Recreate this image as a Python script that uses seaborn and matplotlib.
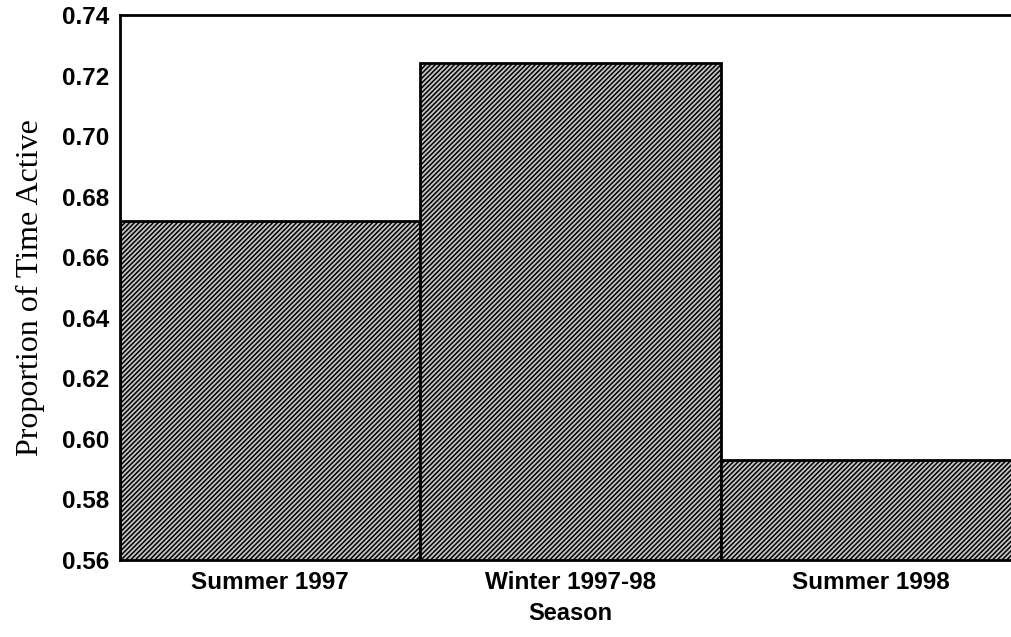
import matplotlib
matplotlib.use("Agg")
import matplotlib.pyplot as plt
import seaborn as sns
import pandas as pd

seasons = ["Summer 1997", "Winter 1997-98", "Summer 1998"]
proportion_active = [0.672, 0.724, 0.593]
y_ticks = [0.56, 0.58, 0.60, 0.62, 0.64, 0.66, 0.68, 0.70, 0.72, 0.74]

sns.set_theme(style="white")
plt.rcParams["hatch.linewidth"] = 1.1
plt.rcParams["hatch.color"] = "black"
plt.rcParams["text.color"] = "black"
plt.rcParams["axes.labelcolor"] = "black"
plt.rcParams["xtick.color"] = "black"
plt.rcParams["ytick.color"] = "black"

df = pd.DataFrame({"Season": seasons, "Proportion": proportion_active})

fig = plt.figure(figsize=(10.11, 6.37), dpi=100)
ax = fig.add_axes([120 / 1011, 1 - 560 / 637, 1 - 120 / 1011 + 0.01, (560 - 15) / 637])

sns.barplot(data=df, x="Season", y="Proportion", ax=ax, width=1.0,
            color="white", edgecolor="black", linewidth=2)

for p in ax.patches:
    p.set_hatch("///////")
    p.set_facecolor("#c4c4c4")
    p.set_edgecolor("black")

ax.set_ylim(0.56, 0.74)
ax.set_xlim(-0.5, 2.5)
ax.set_yticks(y_ticks)
ax.set_yticklabels([f"{v:.2f}" for v in y_ticks])

for lab in ax.get_yticklabels() + ax.get_xticklabels():
    lab.set_fontfamily("Liberation Sans")
    lab.set_fontweight("bold")
    lab.set_fontsize(17.5)
    lab.set_color("black")

ax.tick_params(axis="y", length=3, direction="in", pad=8, width=1.2)
ax.tick_params(axis="x", length=0, pad=8)

ax.set_ylabel("Proportion of Time Active", family="Liberation Serif", fontsize=23,
              labelpad=12, color="black")
ax.set_xlabel("Season", family="Liberation Sans", fontweight="bold", fontsize=17,
              labelpad=6, color="black")

for s in ["left", "top", "bottom"]:
    ax.spines[s].set_visible(True)
    ax.spines[s].set_color("black")
    ax.spines[s].set_linewidth(2)
ax.spines["right"].set_visible(False)

fig.savefig("out.png", dpi=100)
